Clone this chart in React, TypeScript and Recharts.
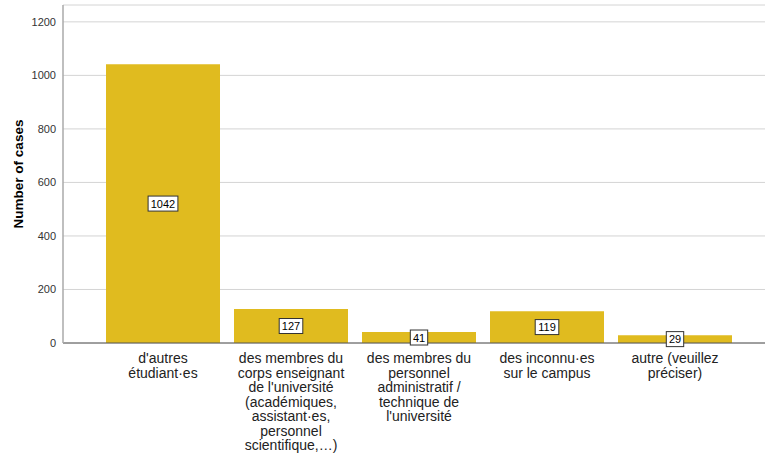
import React from 'react';
import { BarChart, Bar, XAxis, YAxis, CartesianGrid, LabelList } from 'recharts';

const categories = [
  "d'autres\nétudiant·es",
  "des membres du\ncorps enseignant\nde l'université\n(académiques,\nassistant·es,\npersonnel\nscientifique,…)",
  "des membres du\npersonnel\nadministratif /\ntechnique de\nl'université",
  "des inconnu·es\nsur le campus",
  "autre (veuillez\npréciser)",
];
const counts = [1042, 127, 41, 119, 29];
const yTicks = [0, 200, 400, 600, 800, 1000, 1200];

const rows = categories.map((name, i) => ({ name, count: counts[i] }));

const FONT = '"Liberation Sans", Arial, sans-serif';

function CatTick({ x, payload }: any) {
  const lines = String(payload.value).split('\n');
  return (
    <text x={x} y={363} textAnchor="middle" fontFamily={FONT} fontSize={14} fill="#222">
      {lines.map((l: string, i: number) => (
        <tspan key={i} x={x} dy={i === 0 ? 0 : 14.5}>{l}</tspan>
      ))}
    </text>
  );
}

function BoxLabel({ x, y, width, height, value }: any) {
  const cx = x + width / 2;
  const cy = y + height / 2;
  const w = String(value).length * 6.2 + 5;
  return (
    <g>
      <rect x={cx - w / 2} y={cy - 7.5} width={w} height={15} fill="#fff" stroke="#333" strokeWidth={1} />
      <text x={cx} y={cy + 4} textAnchor="middle" fontFamily={FONT} fontSize={11} fill="#000">{value}</text>
    </g>
  );
}

export default function App() {
  return (
    <div style={{ position: 'absolute', left: 0, top: 0, width: 765, height: 455, background: '#fff' }}>
      <BarChart width={765} height={455} data={rows} margin={{ top: 5, right: 0, left: 0, bottom: 0 }} style={{ overflow: 'visible' }}>
        <CartesianGrid vertical={false} stroke="#d4d4d4" />
        <XAxis
          dataKey="name"
          height={112}
          interval={0}
          tickLine={false}
          axisLine={{ stroke: '#555' }}
          padding={{ left: 36, right: 26 }}
          tick={<CatTick />}
        />
        <YAxis
          width={63}
          domain={[0, 1263]}
          ticks={yTicks}
          tickLine={false}
          axisLine={{ stroke: '#aaa', strokeWidth: 1.5 }}
          tick={{ fontFamily: FONT, fontSize: 11, fill: '#333' }}
          tickMargin={1}
          label={{
            value: 'Number of cases',
            angle: -90,
            position: 'insideLeft',
            offset: 18,
            style: { fontFamily: FONT, fontSize: 13.5, fontWeight: 'bold', fill: '#000', textAnchor: 'middle' },
          }}
        />
        <Bar dataKey="count" fill="#e0bb1f" barSize={114} isAnimationActive={false}>
          <LabelList dataKey="count" content={<BoxLabel />} />
        </Bar>
      </BarChart>
    </div>
  );
}
